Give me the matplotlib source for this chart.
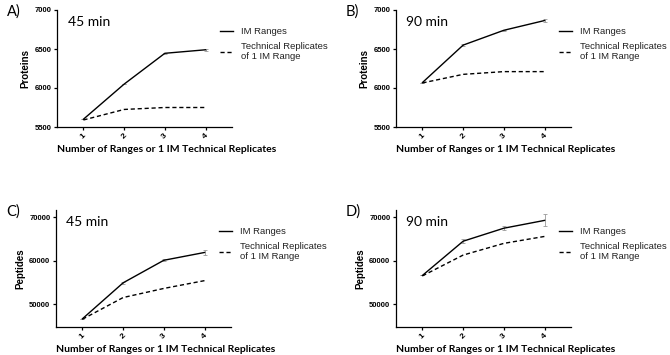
import numpy as np
import matplotlib
matplotlib.use("Agg")
import matplotlib.pyplot as plt
from matplotlib.lines import Line2D

n_runs = [1, 2, 3, 4]
x_ticks = ["1", "2", "3", "4"]

# proteins
prot_45_im = [5600, 6050, 6445, 6490]
prot_45_tech = [5590, 5725, 5750, 5750]
prot_90_im = [6070, 6550, 6740, 6865]
prot_90_tech = [6065, 6175, 6210, 6210]
prot_45_im_err = [0, 5, 5, 10]
prot_90_im_err = [0, 10, 5, 15]

# peptides
pep_45_im = [46600, 54900, 60100, 61900]
pep_45_tech = [46500, 51500, 53600, 55400]
pep_90_im = [56600, 64500, 67500, 69300]
pep_90_tech = [56500, 61300, 64000, 65600]
pep_45_im_err = [0, 200, 250, 500]
pep_90_im_err = [0, 500, 400, 1400]

panels = [
    ("A)", "45 min", "Proteins", prot_45_im, prot_45_tech, prot_45_im_err, (5500, 7000), [5500, 6000, 6500, 7000]),
    ("B)", "90 min", "Proteins", prot_90_im, prot_90_tech, prot_90_im_err, (5500, 7000), [5500, 6000, 6500, 7000]),
    ("C)", "45 min", "Peptides", pep_45_im, pep_45_tech, pep_45_im_err, (44700, 71700), [50000, 60000, 70000]),
    ("D)", "90 min", "Peptides", pep_90_im, pep_90_tech, pep_90_im_err, (44700, 71700), [50000, 60000, 70000]),
]

W, H = 670, 355
fig = plt.figure(figsize=(6.7, 3.55), dpi=100)

# axes boxes in pixels: left, top
boxes = [(57, 10), (396, 10), (56, 210), (396, 210)]
aw, ah = 175, 117

for (lab, tlab, ylab, im, tech, err, ylim, yt), (px, py) in zip(panels, boxes):
    ax = fig.add_axes([px / W, (H - py - ah) / H, aw / W, ah / H])
    ax.errorbar(n_runs, im, yerr=err, color="black", lw=1.0, ecolor="#999999",
                elinewidth=0.6, capsize=1.5, capthick=0.6)
    ax.plot(n_runs, tech, color="black", lw=1.0, dashes=(3, 2))
    ax.set_xlim(0.35, 4.65)
    ax.set_ylim(*ylim)
    ax.set_yticks(yt)
    ax.set_yticklabels([str(v) for v in yt], fontsize=5.5, fontweight="bold",
                       family="Liberation Sans")
    ax.set_xticks(n_runs)
    ax.set_xticklabels(x_ticks, fontsize=6, fontweight="bold",
                       family="Liberation Sans", rotation=45)
    for s in ["top", "right"]:
        ax.spines[s].set_visible(False)
    for s in ["left", "bottom"]:
        ax.spines[s].set_linewidth(0.9)
    ax.tick_params(width=0.9, length=2.5, pad=1.5)
    ax.set_ylabel(ylab, fontsize=7, fontweight="bold", family="Liberation Sans",
                  labelpad=3)
    ax.text(0.06, 0.9, tlab, transform=ax.transAxes, fontsize=10,
            family="Lato", va="center", ha="left")
    fig.text((px - 50) / W, 1 - (py + 2) / H, lab, fontsize=10.5, family="Lato",
             va="center", ha="left")
    fig.text((px + 110) / W, 1 - (py + 139) / H,
             "Number of Ranges or 1 IM Technical Replicates",
             fontsize=7.5, fontweight="bold", family="Lato", ha="center", va="center")
    handles = [Line2D([], [], color="black", lw=1.0),
               Line2D([], [], color="black", lw=1.0, dashes=(3, 2))]
    leg = ax.legend(handles, ["IM Ranges", "Technical Replicates\nof 1 IM Range"],
                    loc="upper left",
                    bbox_to_anchor=((px + 163) / W, 1 - (py + 17) / H),
                    bbox_transform=fig.transFigure, frameon=False,
                    borderpad=0, borderaxespad=0, handlelength=1.4,
                    handletextpad=0.8, labelspacing=0.6,
                    prop={"family": "Liberation Sans", "size": 6.8})
    for t in leg.get_texts():
        t.set_color("#222222")

plt.savefig("out.png", dpi=100)
